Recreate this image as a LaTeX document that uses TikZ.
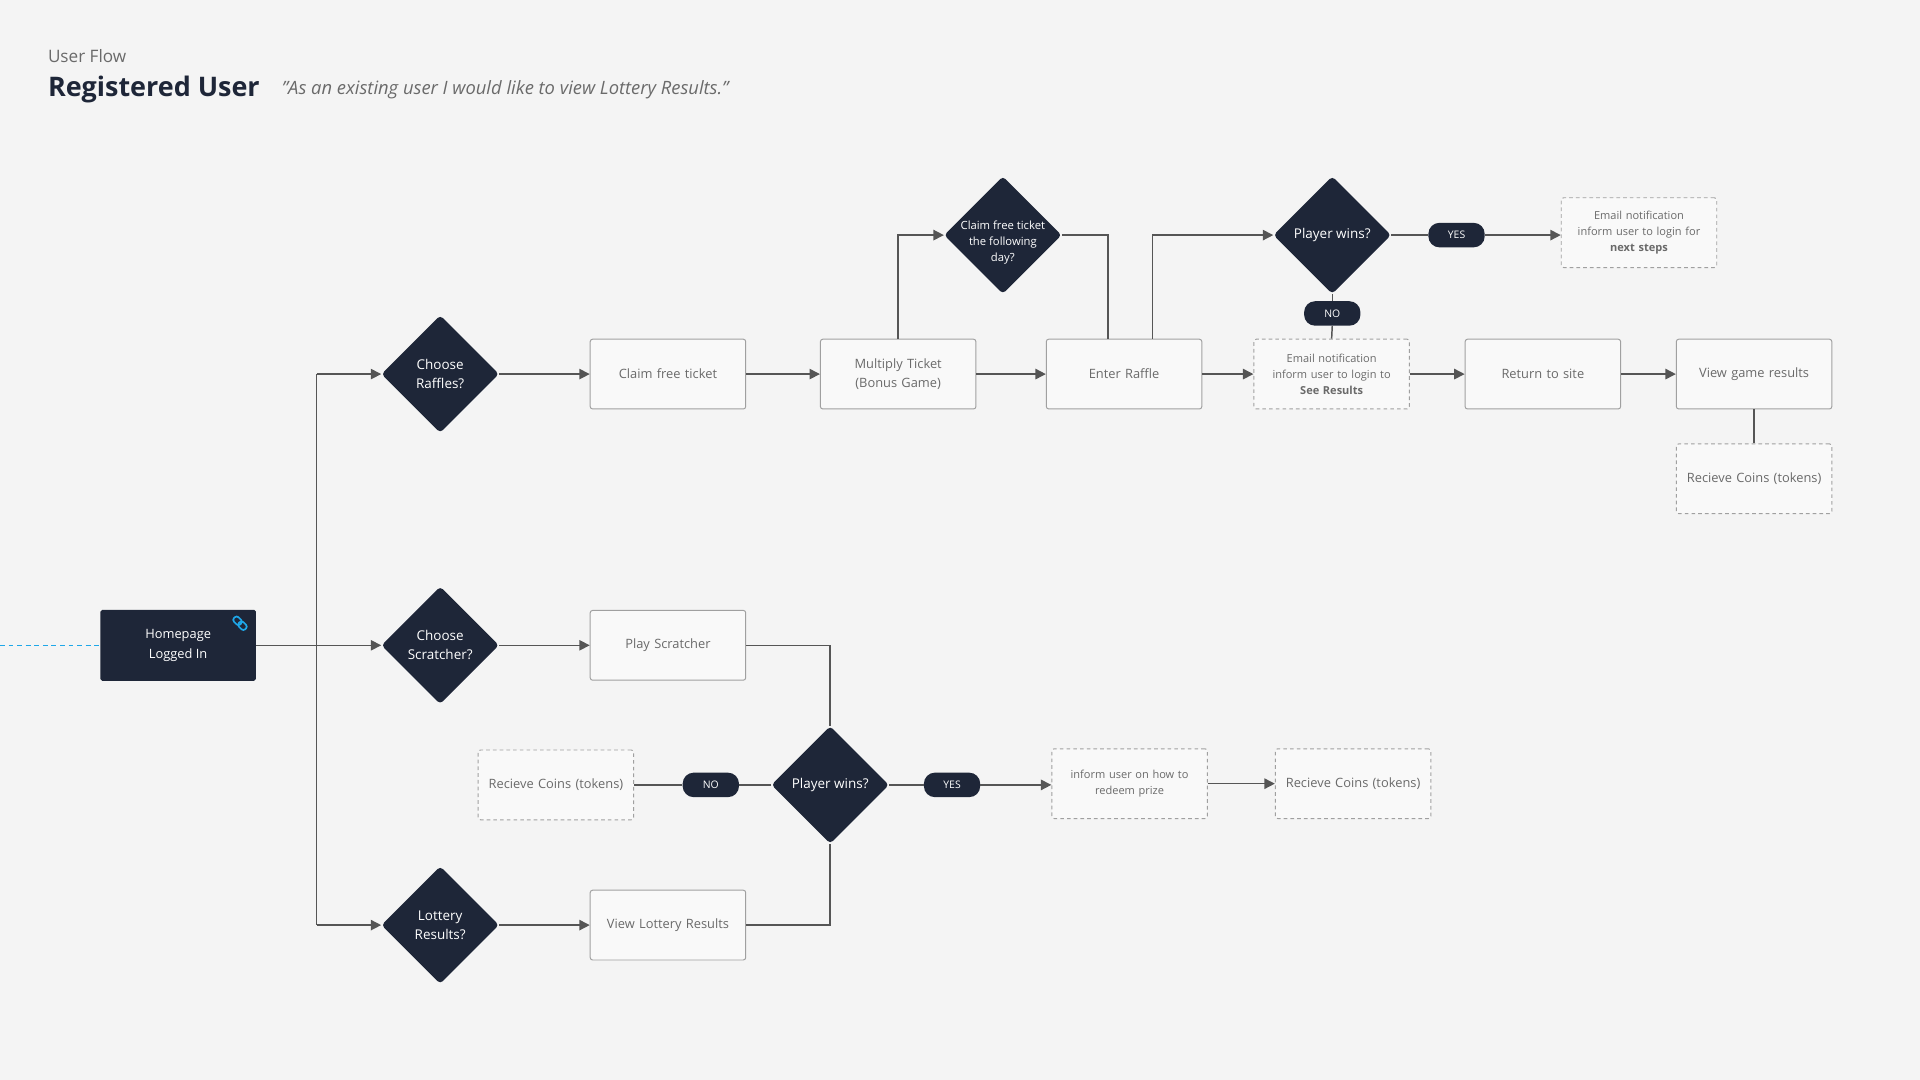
\documentclass[tikz,border=0pt]{standalone}
\usepackage{fontspec}
\setmainfont{Open Sans}
\usetikzlibrary{shapes.geometric,arrows.meta}
\definecolor{navy}{HTML}{1E2638}
\definecolor{bgc}{HTML}{F4F4F4}
\definecolor{boxfill}{HTML}{F9F9F9}
\definecolor{boxline}{HTML}{A0A0A0}
\definecolor{linec}{HTML}{555555}
\definecolor{txtc}{HTML}{6A6A6A}
\definecolor{linkblue}{HTML}{1EA7E8}
\tikzset{
  boxnode/.style={draw=boxline, line width=0.8pt, fill=boxfill, rounded corners=2pt,
    minimum width=127pt, minimum height=57pt, text width=122pt, align=center,
    text=txtc, font=\fontsize{10.5}{16}\selectfont, inner sep=2pt},
  dashnode/.style={boxnode, dashed, dash pattern=on 3pt off 2.5pt},
  smalltxt/.style={font=\fontsize{9}{13}\selectfont},
  decnode/.style={diamond, fill=navy, rounded corners=3pt, minimum width=96pt,
    minimum height=96pt, inner sep=0pt, text=white, align=center,
    font=\fontsize{11}{15.5}\selectfont},
  pillnode/.style={fill=navy, rounded corners=9pt, minimum width=46pt,
    minimum height=20pt, inner sep=0pt, text=white, font=\fontsize{8.5}{9}\selectfont},
  conn/.style={draw=linec, line width=1.2pt},
  arr/.style={conn, -{Triangle[length=8.5pt,width=8.5pt]}},
}
\begin{document}
\begin{tikzpicture}[x=1pt,y=-1pt]
\fill[bgc] (0,0) rectangle (1568,882);
\useasboundingbox (0,0) rectangle (1568,882);

% titles
\node[anchor=west, inner sep=0pt, text=txtc, font=\fontsize{14}{16}\selectfont] (tflow) at (39,46) {User Flow};
\node[anchor=west, inner sep=0pt, text=navy, font=\fontsize{22}{26}\selectfont\bfseries] (ttitle) at (39,73) {Registered User};
\node[anchor=west, inner sep=0pt, text=txtc, font=\fontsize{15}{18}\selectfont\itshape] (tquote) at (230,73) {\symbol{"22}As an existing user I would like to view Lottery Results.\symbol{"22}};

% homepage
\node[fill=navy, rounded corners=1.5pt, minimum width=127pt, minimum height=58pt, text=white,
  align=center, font=\fontsize{10.5}{16}\selectfont] (home) at (145.5,527) {Homepage\\Logged In};
\coordinate (hstart) at (0,527);
\draw[linkblue, dashed, line width=0.9pt, dash pattern=on 4pt off 3pt] (hstart) -- (home.west);
% link icon
\begin{scope}[shift={(196,509)}, rotate=-45]
  \draw[linkblue, line width=1.4pt, rounded corners=2.2pt] (-6.5,-2.6) rectangle (0.8,2.6);
  \draw[linkblue, line width=1.4pt, rounded corners=2.2pt] (-0.8,-2.6) rectangle (6.5,2.6);
\end{scope}

% decisions
\node[decnode] (raf) at (359.5,305.5) {Choose\\Raffles?};
\node[decnode] (scr) at (359.5,527) {Choose\\Scratcher?};
\node[decnode] (lot) at (359.5,755.5) {Lottery\\Results?};
\node[decnode, inner sep=-8pt, font=\fontsize{9.2}{13}\selectfont] (cfd) at (819,192)
  {\raisebox{-8pt}[19pt][19pt]{\begin{tabular}{@{}c@{}}Claim free ticket\\the following\\day?\end{tabular}}};
\node[decnode] (pw1) at (1088,192) {Player wins?};
\node[decnode] (pw2) at (678,641) {Player wins?};

% boxes top row
\node[boxnode] (cft) at (545.5,305.5) {Claim free ticket};
\node[boxnode] (mul) at (733.5,305.5) {Multiply Ticket\\(Bonus Game)};
\node[boxnode] (ent) at (918,305.5) {Enter Raffle};
\node[dashnode, smalltxt] (em1) at (1087.5,305.5) {Email notification\\inform user to login to\\\textbf{See Results}};
\node[boxnode] (ret) at (1260,305.5) {Return to site};
\node[boxnode] (vgr) at (1432.5,305.5) {View game results};
\node[dashnode] (rc1) at (1432.5,391) {Recieve Coins (tokens)};
\node[dashnode, smalltxt] (em2) at (1338.5,190) {Email notification\\inform user to login for\\\textbf{next steps}};

% boxes lower
\node[boxnode] (psc) at (545.5,527) {Play Scratcher};
\node[boxnode] (vlr) at (545.5,755.5) {View Lottery Results};
\node[dashnode] (rc2) at (454,641) {Recieve Coins (tokens)};
\node[dashnode, smalltxt] (inf) at (922.5,640) {inform user on how to\\redeem prize};
\node[dashnode] (rc3) at (1105,640) {Recieve Coins (tokens)};

% pills
\node[pillnode] (yes1) at (1189.5,192) {YES};
\node[pillnode] (no1) at (1088,256) {NO};
\node[pillnode] (no2) at (580.5,641) {NO};
\node[pillnode] (yes2) at (777.5,641) {YES};

% trunk
\coordinate (t1) at (258.5,305.5);
\coordinate (t3) at (258.5,755.5);
\draw[conn] (t1) -- (t3);
\draw[arr] (home.east) -- (scr.west);
\draw[arr] (t1) -- (raf.west);
\draw[arr] (t3) -- (lot.west);

% raffle path
\draw[arr] (raf.east) -- (cft.west);
\draw[arr] (cft.east) -- (mul.west);
\draw[arr] (mul.east) -- (ent.west);
\draw[arr] (mul.north) |- (cfd.west);
\draw[conn] (cfd.east) -| ([xshift=-13pt]ent.north);
\draw[arr] ([xshift=23pt]ent.north) |- (pw1.west);
\draw[arr] (ent.east) -- (em1.west);
\draw[conn] (pw1.east) -- (yes1.west);
\draw[arr] (yes1.east) -- (yes1.east -| em2.west);
\draw[conn] (pw1.south) -- (no1.north);
\draw[conn] (no1.south) -- (em1.north);
\draw[arr] (em1.east) -- (ret.west);
\draw[arr] (ret.east) -- (vgr.west);
\draw[conn] (vgr.south) -- (rc1.north);

% scratcher / lottery path
\draw[arr] (scr.east) -- (psc.west);
\draw[arr] (lot.east) -- (vlr.west);
\draw[conn] (psc.east) -| (pw2.north);
\draw[conn] (vlr.east) -| (pw2.south);
\draw[conn] (pw2.west) -- (no2.east);
\draw[conn] (no2.west) -- (rc2.east);
\draw[conn] (pw2.east) -- (yes2.west);
\draw[arr] (yes2.east) -- (yes2.east -| inf.west);
\draw[arr] (inf.east) -- (rc3.west);
\end{tikzpicture}
\end{document}
